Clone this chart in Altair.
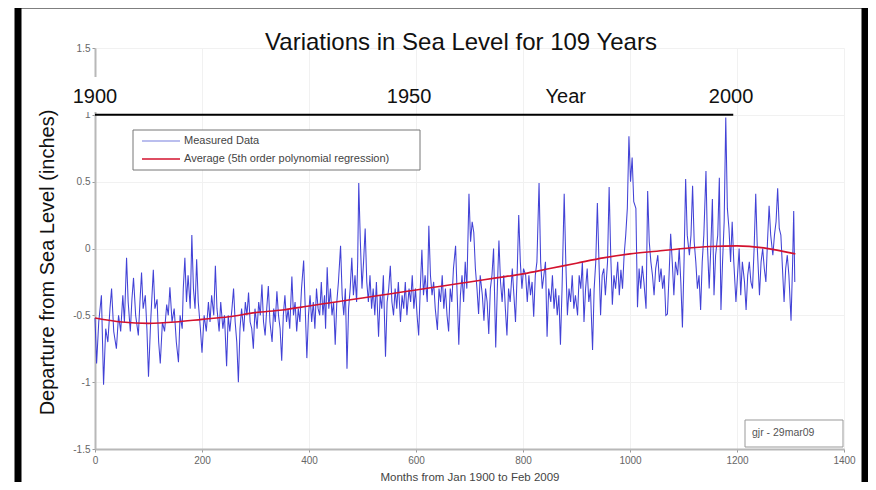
import altair as alt
import pandas as pd

# ---------------- data ----------------
chart_title = "Variations in Sea Level for 109 Years"
x_title = "Months from Jan 1900 to Feb 2009"
y_title = "Departure from Sea Level (inches)"

x_ticks = [0, 200, 400, 600, 800, 1000, 1200, 1400]
y_ticks = [-1.5, -1, -0.5, 0, 0.5, 1, 1.5]

# (month, departure in inches) for the measured monthly series
measured_points = [
    (0, -0.52), (3, -0.86), (7, -0.55), (12, -0.35), (16, -1.02), (20, -0.6), (24, -0.7), (28, -0.45),
    (31, -0.30), (35, -0.62), (40, -0.75), (44, -0.5), (48, -0.62), (52, -0.35), (55, -0.55), (59, -0.07),
    (62, -0.4), (66, -0.62), (69, -0.38), (72, -0.22), (76, -0.5), (81, -0.65), (84, -0.4), (87, -0.18),
    (90, -0.45), (94, -0.35), (97, -0.6), (100, -0.96), (104, -0.55), (109, -0.16), (112, -0.45), (116, -0.38),
    (119, -0.7), (122, -0.86), (126, -0.55), (130, -0.62), (134, -0.42), (137, -0.5), (140, -0.29), (144, -0.55),
    (148, -0.45), (152, -0.7), (156, -0.85), (159, -0.5), (163, -0.6), (165, -0.3), (168, -0.07), (171, -0.4),
    (174, -0.2), (178, -0.45), (181, 0.10), (184, -0.3), (187, -0.45), (190, -0.08), (193, -0.4), (197, -0.6),
    (200, -0.78), (204, -0.5), (208, -0.62), (212, -0.4), (215, -0.55), (218, -0.35), (222, -0.5), (225, -0.13),
    (228, -0.45), (232, -0.62), (235, -0.4), (239, -0.6), (242, -0.5), (246, -0.88), (249, -0.5), (252, -0.62),
    (256, -0.45), (259, -0.30), (262, -0.55), (265, -0.7), (268, -1.0), (271, -0.6), (274, -0.45), (278, -0.62),
    (281, -0.4), (284, -0.5), (287, -0.33), (290, -0.55), (293, -0.6), (296, -0.75), (299, -0.45), (303, -0.6),
    (306, -0.4), (309, -0.5), (312, -0.27), (315, -0.55), (318, -0.65), (321, -0.45), (324, -0.28), (327, -0.55),
    (331, -0.7), (334, -0.45), (337, -0.55), (340, -0.32), (343, -0.5), (346, -0.6), (349, -0.84), (352, -0.5),
    (355, -0.35), (358, -0.55), (361, -0.45), (364, -0.6),
    (368, -0.21), (371, -0.5), (374, -0.4), (377, -0.62), (380, -0.45), (383, -0.55), (386, -0.3), (390, -0.09),
    (393, -0.45), (396, -0.82), (399, -0.5), (402, -0.35), (405, -0.55), (408, -0.4), (411, -0.6), (414, -0.3),
    (417, -0.45), (420, -0.5), (423, -0.25), (426, -0.5), (429, -0.35), (431, -0.6), (434, -0.14), (437, -0.45),
    (440, -0.3), (443, -0.5), (446, -0.4), (449, -0.72), (452, -0.4), (455, -0.25), (459, 0.02), (462, -0.35),
    (465, -0.5), (468, -0.3), (471, -0.90), (474, -0.45), (477, -0.3), (480, -0.07), (483, -0.35), (486, -0.2),
    (489, -0.4), (491, -0.1), (493, 0.49), (496, 0.05), (499, -0.3), (502, -0.1), (505, 0.15), (508, -0.25),
    (511, -0.4), (514, -0.2), (517, -0.45), (520, -0.3), (523, -0.5), (526, -0.25), (530, -0.66), (533, -0.35),
    (536, -0.45), (539, -0.2), (543, -0.81), (546, -0.4), (549, -0.3), (552, -0.13), (555, -0.4), (558, -0.5),
    (561, -0.3), (564, -0.45), (567, -0.25), (571, -0.55), (574, -0.35), (577, -0.45), (580, -0.25), (583, -0.5),
    (587, -0.3), (590, -0.4), (593, -0.2), (596, -0.45), (599, -0.3), (602, -0.5), (605, -0.65), (608, -0.3),
    (611, -0.01), (614, -0.35), (617, -0.2), (621, -0.4), (624, 0.17), (627, -0.2), (630, -0.35), (633, -0.25),
    (636, -0.45), (640, -0.61), (643, -0.3), (646, -0.4), (649, -0.2), (652, -0.45), (655, -0.3), (658, -0.5),
    (661, -0.62), (664, -0.3), (667, -0.4), (670, -0.15), (674, 0.02), (677, -0.35), (680, -0.72), (683, -0.35),
    (686, -0.2), (689, -0.4), (692, -0.1), (695, -0.3), (699, 0.41), (702, 0.05), (705, 0.2), (708, 0.12),
    (711, -0.15), (714, -0.3), (717, -0.49), (720, -0.2),
    (724, -0.35), (727, -0.54), (730, -0.3), (733, -0.4), (736, -0.64), (739, -0.3), (742, -0.2), (745, 0.0),
    (749, -0.74), (752, -0.3), (755, 0.06), (758, -0.25), (761, -0.4), (764, -0.2), (767, -0.45), (770, -0.65),
    (773, -0.3), (776, -0.4), (780, -0.15), (783, -0.35), (786, -0.55), (789, -0.2), (792, 0.25), (795, -0.1),
    (798, -0.3), (801, -0.15), (805, -0.2), (808, -0.4), (811, -0.2), (814, -0.35), (817, -0.25), (820, -0.51),
    (823, -0.2), (826, -0.1), (830, 0.49), (833, -0.1), (836, -0.3), (839, -0.2), (842, -0.1), (845, -0.66),
    (848, -0.3), (852, -0.4), (855, -0.2), (858, -0.45), (861, -0.3), (864, -0.5), (867, -0.35), (870, -0.72),
    (873, -0.3), (877, 0.41), (880, -0.1), (883, -0.5), (886, -0.3), (889, -0.4), (892, -0.2), (895, -0.45),
    (898, -0.35), (902, -0.5), (905, -0.2), (908, -0.3), (911, -0.1), (914, -0.55), (917, -0.3), (920, -0.15),
    (923, -0.4), (926, -0.3), (930, -0.76), (933, -0.3), (936, -0.1), (939, 0.34), (942, -0.1), (945, -0.5),
    (948, -0.2), (951, -0.15), (954, -0.35), (958, -0.1), (961, 0.46), (964, -0.05), (967, -0.42), (970, -0.2),
    (973, -0.3), (977, -0.1), (980, -0.35), (983, -0.16), (986, -0.3), (989, -0.05), (992, 0.1), (995, 0.3),
    (998, 0.84), (1001, 0.5), (1004, 0.68), (1007, 0.35), (1011, 0.3), (1014, -0.44), (1017, -0.15), (1020, -0.3),
    (1023, -0.13), (1026, -0.25), (1030, -0.45), (1033, 0.43), (1036, 0.05), (1039, -0.1), (1042, -0.2), (1045, -0.35),
    (1048, -0.15), (1052, -0.05), (1055, -0.25), (1058, -0.15), (1061, -0.3), (1064, -0.2), (1067, -0.5),
    (1070, -0.49), (1073, -0.2), (1076, 0.11), (1079, -0.1), (1082, -0.35), (1085, -0.1), (1089, -0.2), (1092, 0.0),
    (1095, -0.25), (1098, -0.59), (1101, -0.1), (1104, 0.52), (1107, 0.1), (1111, -0.05), (1114, 0.1), (1117, 0.47),
    (1120, 0.05), (1123, -0.1), (1126, -0.3), (1129, -0.2), (1132, -0.46), (1135, -0.1), (1138, 0.1), (1142, 0.58),
    (1145, 0.0), (1148, -0.3), (1151, 0.0), (1154, 0.37), (1157, -0.35), (1160, -0.05), (1164, 0.1), (1167, 0.53),
    (1170, -0.46), (1173, -0.1), (1176, 0.2), (1179, 0.98), (1182, 0.3), (1185, 0.15), (1188, -0.1), (1191, 0.2),
    (1194, -0.1), (1198, -0.4), (1201, -0.2), (1204, 0.0), (1207, -0.35), (1210, -0.1), (1214, -0.25), (1217, -0.46),
    (1220, -0.2), (1223, -0.1), (1226, -0.25), (1229, -0.3), (1232, 0.0), (1235, 0.41), (1238, 0.0), (1242, -0.35),
    (1245, -0.1), (1248, 0.0), (1251, -0.15), (1254, -0.25), (1257, 0.05), (1260, 0.32), (1263, 0.1), (1267, -0.05),
    (1270, 0.1), (1273, 0.2), (1276, 0.45), (1279, 0.15), (1282, 0.1), (1285, -0.15), (1288, -0.4), (1291, -0.15),
    (1294, -0.05), (1297, -0.2), (1301, -0.54), (1304, -0.1), (1306, 0.28), (1308, -0.25),
]

# red "average" curve (5th order polynomial regression)
avg_months = [0, 50, 100, 150, 200, 250, 300, 350, 400, 450, 500, 550, 600, 650,
              700, 750, 800, 850, 900, 950, 1000, 1050, 1100, 1150, 1200, 1250, 1309]
avg_level = [-0.52, -0.55, -0.56, -0.55, -0.53, -0.51, -0.48, -0.46, -0.43, -0.40, -0.37, -0.34, -0.31, -0.28,
             -0.25, -0.22, -0.19, -0.15, -0.11, -0.07, -0.04, -0.02, 0.0, 0.015, 0.02, 0.005, -0.04]

# the hand-drawn "Year" scale along the top
year_labels = ["1900", "1950", "Year", "2000"]
year_label_months = [0, 587, 880, 1189]
year_label_level = [1.13, 1.13, 1.13, 1.13]
year_line_months = [0, 1193]
year_line_level = [1.0, 1.0]

legend_labels = ["Measured Data", "Average (5th order polynomial regression)"]
stamp_text = "gjr - 29mar09"

# ---------------- styling ----------------
FONT = "Liberation Sans"
BLUE = "#3232d2"
BLUE_LEGEND = "#a3a8e8"
RED = "#d3122e"
W, H = 749, 401

measured_df = pd.DataFrame(measured_points, columns=["month", "level"])
avg_df = pd.DataFrame({"month": avg_months, "level": avg_level})
years_df = pd.DataFrame({"month": year_label_months, "level": year_label_level, "label": year_labels})
yline_df = pd.DataFrame({"month": year_line_months, "level": year_line_level})
one = pd.DataFrame({"k": [0]})

xs = alt.Scale(domain=[0, 1400], nice=False, zero=False)
ys = alt.Scale(domain=[-1.5, 1.5], nice=False, zero=False)

X = alt.X("month:Q", scale=xs, axis=alt.Axis(
    values=x_ticks, format="d", title=x_title, grid=True, gridColor="#f1f1f1", labelFlush=False,
    domainColor="#b8b8b8", domainWidth=2, tickColor="#999999", tickSize=3,
    labelFontSize=10, labelColor="#666666", labelFont=FONT, labelPadding=3,
    titleFont=FONT, titleFontSize=11.5, titleFontWeight="normal", titleColor="#444444", titlePadding=6))
Y = alt.Y("level:Q", scale=ys, axis=alt.Axis(
    values=y_ticks, labelExpr="'' + datum.value", title=y_title, grid=True, gridColor="#f1f1f1",
    labelFlush=False,
    domainColor="#b8b8b8", domainWidth=2, tickColor="#999999", tickSize=3,
    labelFontSize=10, labelColor="#666666", labelFont=FONT, labelPadding=2,
    titleFont=FONT, titleFontSize=20, titleFontWeight="normal", titleColor="#111111",
    titleAngle=270, titleX=-48, titleY=214, titleAlign="center", titleBaseline="middle"))

measured = alt.Chart(measured_df).mark_line(color=BLUE, strokeWidth=1.05, opacity=0.92).encode(x=X, y=Y)
average = alt.Chart(avg_df).mark_line(color=RED, strokeWidth=1.6, interpolate="monotone").encode(x=X, y=Y)

year_line = alt.Chart(yline_df).mark_line(color="black", strokeWidth=2).encode(x=X, y=Y)
year_text = alt.Chart(years_df).mark_text(font=FONT, fontSize=20, color="#111111", baseline="middle", align="center").encode(
    x=X, y=Y, text="label:N")

# white patch behind "1900" (it hides the axis line in the original)
patch = alt.Chart(one).mark_rect(color="white").encode(
    x=alt.value(-22), x2=alt.value(23), y=alt.value(29), y2=alt.value(64))

title = alt.Chart(one).mark_text(font=FONT, fontSize=24, color="#111111", align="center", baseline="alphabetic").encode(
    x=alt.value(366), y=alt.value(2), text=alt.value(chart_title))

# legend box
leg_box = alt.Chart(one).mark_rect(fill="white", stroke="#777777", strokeWidth=1).encode(
    x=alt.value(38), x2=alt.value(325), y=alt.value(82), y2=alt.value(122))
leg_l1 = alt.Chart(one).mark_rule(color=BLUE_LEGEND, strokeWidth=1.5).encode(
    x=alt.value(47), x2=alt.value(85), y=alt.value(93))
leg_l2 = alt.Chart(one).mark_rule(color=RED, strokeWidth=1.5).encode(
    x=alt.value(47), x2=alt.value(85), y=alt.value(111))
leg_t1 = alt.Chart(one).mark_text(font=FONT, fontSize=11, color="#444444", align="left", baseline="middle").encode(
    x=alt.value(89), y=alt.value(93), text=alt.value(legend_labels[0]))
leg_t2 = alt.Chart(one).mark_text(font=FONT, fontSize=11, color="#444444", align="left", baseline="middle").encode(
    x=alt.value(89), y=alt.value(111), text=alt.value(legend_labels[1]))

# stamp box bottom right
stamp_box = alt.Chart(one).mark_rect(fill="white", stroke="#999999", strokeWidth=1).encode(
    x=alt.value(650), x2=alt.value(748), y=alt.value(372), y2=alt.value(399))
stamp_text_m = alt.Chart(one).mark_text(font=FONT, fontSize=10.5, color="#555555", align="left", baseline="middle").encode(
    x=alt.value(657), y=alt.value(385), text=alt.value(stamp_text))

# black picture frame (left, top and right edges)
frame = alt.Chart(one).mark_rect(filled=False, stroke="black", strokeWidth=7).encode(
    x=alt.value(-77), x2=alt.value(770), y=alt.value(-43), y2=alt.value(470))

chart = alt.layer(
    measured, average, year_line, patch, year_text, title,
    leg_box, leg_l1, leg_l2, leg_t1, leg_t2, stamp_box, stamp_text_m, frame
).properties(
    width=W, height=H,
    padding={"left": 87, "top": 40, "right": 24, "bottom": 33},
    autosize=alt.AutoSizeParams(type="none"),
    background="white",
).configure_view(stroke=None)

chart.save("out.html", embed_options={"renderer": "svg", "actions": False})
